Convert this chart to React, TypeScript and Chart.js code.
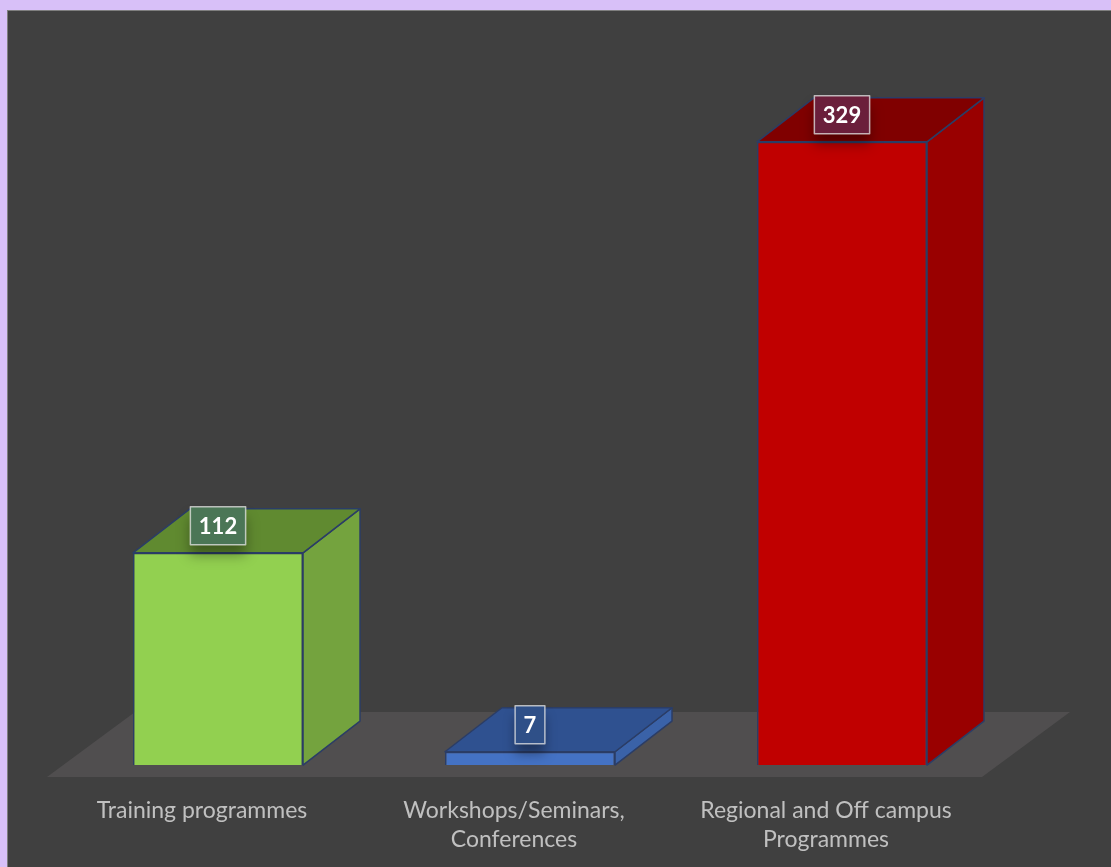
import React, { useEffect, useRef } from "react";
import { Chart, registerables } from "chart.js";

Chart.register(...registerables);

const categories: string[][] = [
  ["Training programmes"],
  ["Workshops/Seminars,", "Conferences"],
  ["Regional and Off campus", "Programmes"],
];
const values: number[] = [112, 7, 329];
const frontColors: string[] = ["#92d050", "#4472c4", "#c00000"];
const sideColors: string[] = ["#74a33e", "#3a62a8", "#990000"];
const topColors: string[] = ["#608a30", "#2f5190", "#800000"];
const labelBoxColors: string[] = ["#4b7656", "#2f5088", "#6b1f3b"];

const DX = 57;
const DY = -44;
const OUTLINE = "#2b3d66";

function poly(ctx: CanvasRenderingContext2D, pts: number[][], fill: string) {
  ctx.beginPath();
  ctx.moveTo(pts[0][0], pts[0][1]);
  for (let k = 1; k < pts.length; k++) ctx.lineTo(pts[k][0], pts[k][1]);
  ctx.closePath();
  ctx.fillStyle = fill;
  ctx.fill();
  ctx.strokeStyle = OUTLINE;
  ctx.lineWidth = 1.5;
  ctx.lineJoin = "round";
  ctx.stroke();
}

const threeD = {
  id: "threeD",
  beforeDatasetsDraw(chart: any) {
    const { ctx, chartArea } = chart;
    const base = chart.scales.y.getPixelForValue(0);
    const fy = base + 12;
    ctx.save();
    ctx.fillStyle = "#504e4f";
    ctx.beginPath();
    ctx.moveTo(chartArea.left - 15, fy);
    ctx.lineTo(chartArea.right - 16, fy);
    ctx.lineTo(chartArea.right - 16 + 88, fy - 65);
    ctx.lineTo(chartArea.left - 15 + 88, fy - 65);
    ctx.closePath();
    ctx.fill();
    ctx.restore();
  },
  afterDatasetsDraw(chart: any) {
    const { ctx } = chart;
    const meta = chart.getDatasetMeta(0);
    ctx.save();
    meta.data.forEach((bar: any, i: number) => {
      const { x, y, base, width } = bar.getProps(["x", "y", "base", "width"], true);
      const l = x - width / 2;
      const r = x + width / 2;
      poly(ctx, [[r, y], [r + DX, y + DY], [r + DX, base + DY], [r, base]], sideColors[i]);
      poly(ctx, [[l, y], [l + DX, y + DY], [r + DX, y + DY], [r, y]], topColors[i]);
    });
    // data labels
    ctx.font = "bold 22px Lato";
    ctx.textAlign = "center";
    ctx.textBaseline = "middle";
    meta.data.forEach((bar: any, i: number) => {
      const { x, y } = bar.getProps(["x", "y"], true);
      const txt = String(values[i]);
      const tw = ctx.measureText(txt).width;
      const w = tw + 17;
      const h = 38;
      const cx = x;
      const cy = y + DY / 2 - 5;
      ctx.save();
      ctx.shadowColor = "rgba(0,0,0,0.35)";
      ctx.shadowBlur = 12;
      ctx.shadowOffsetY = 10;
      ctx.fillStyle = labelBoxColors[i];
      ctx.fillRect(cx - w / 2, cy - h / 2, w, h);
      ctx.restore();
      ctx.strokeStyle = "rgba(230,230,230,0.75)";
      ctx.lineWidth = 1.5;
      ctx.strokeRect(cx - w / 2, cy - h / 2, w, h);
      ctx.fillStyle = "#ffffff";
      ctx.fillText(txt, cx, cy + 1);
    });
    ctx.restore();
  },
};

export default function App() {
  const ref = useRef<HTMLCanvasElement>(null);
  useEffect(() => {
    if (!ref.current) return;
    const chart = new Chart(ref.current, {
      type: "bar",
      data: {
        labels: categories,
        datasets: [
          {
            data: values,
            backgroundColor: frontColors,
            borderColor: OUTLINE,
            borderWidth: 1.5,
            categoryPercentage: 1,
            barPercentage: 0.545,
          },
        ],
      },
      options: {
        responsive: false,
        animation: false,
        layout: { padding: { left: 62, right: 113, top: 102, bottom: 23 } },
        plugins: { legend: { display: false }, tooltip: { enabled: false } },
        scales: {
          y: { display: false, min: 0, max: 350 },
          x: {
            grid: { display: false },
            border: { display: false },
            ticks: {
              color: "#c0c0c0",
              font: { family: "Lato", size: 23, lineHeight: 1.26 },
              padding: 23,
              labelOffset: -16,
              maxRotation: 0,
              autoSkip: false,
            },
          },
        },
      },
      plugins: [threeD],
    });
    return () => chart.destroy();
  }, []);
  return (
    <div style={{ position: "fixed", left: 0, top: 0, width: 1111, height: 867, background: "#d8c0f8", overflow: "hidden" }}>
      <div
        style={{
          position: "absolute",
          left: 7,
          top: 10,
          right: 0,
          bottom: 0,
          background: "#404040",
          borderTop: "1px solid #7f7f7f",
          borderLeft: "1px solid #7f7f7f",
        }}
      />
      <canvas ref={ref} width={1111} height={900} style={{ position: "absolute", left: 0, top: 0, width: 1111, height: 900 }} />
    </div>
  );
}
